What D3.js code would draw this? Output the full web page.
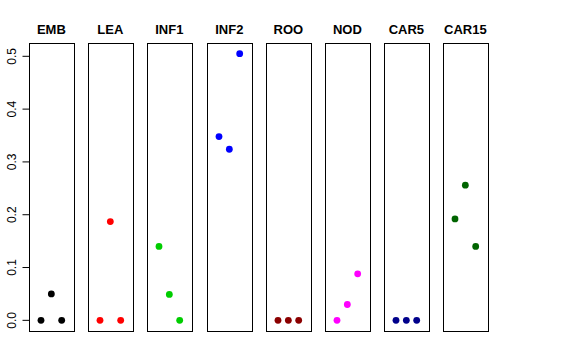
<!DOCTYPE html>
<html>
<head>
<meta charset="utf-8">
<script src="https://cdn.jsdelivr.net/npm/d3@7"></script>
<style>
  body { margin: 0; background: #fff; }
  svg { font-family: "Liberation Sans", Arial, sans-serif; }
</style>
</head>
<body>
<div id="chart"></div>
<script>
const width = 576, height = 360;

// panel names, one dot colour per panel, three values per panel
const categories = ["EMB", "LEA", "INF1", "INF2", "ROO", "NOD", "CAR5", "CAR15"];
const palette = ["#000000", "#FF0000", "#00CD00", "#0000FF", "#8B0000", "#FF00FF", "#00008B", "#006400"];
const values = [
    [0, 0.05, 0],
    [0, 0.187, 0],
    [0.14, 0.049, 0],
    [0.348, 0.324, 0.505],
    [0, 0, 0],
    [0, 0.03, 0.088],
    [0, 0, 0],
    [0.192, 0.256, 0.14]
];
const xPositions = [1, 2, 3];
const yTicks = [0, 0.1, 0.2, 0.3, 0.4, 0.5];

const plotTop = 43, plotBottom = 331;

const svg = d3.select("#chart")
    .append("svg")
    .attr("width", width)
    .attr("height", height);

const panel = d3.scaleBand()
    .domain(categories)
    .range([29, 488])
    .paddingInner(0.245)
    .paddingOuter(0);

// R style 4% padding round the data range
const yMax = d3.max(values.flat());
const pad = yMax * 0.04;
const y = d3.scaleLinear()
    .domain([-pad, yMax + pad])
    .range([plotBottom, plotTop]);

const panels = svg.selectAll("g.panel")
    .data(categories)
    .join("g")
    .attr("class", "panel")
    .attr("transform", d => `translate(${Math.round(panel(d))},0)`);

panels.each(function (name, i) {
    const g = d3.select(this);
    const w = panel.bandwidth();
    const x = d3.scaleLinear().domain([-0.16, 4.16]).range([0, w]);

    g.selectAll("circle")
        .data(values[i])
        .join("circle")
        .attr("cx", (d, j) => x(xPositions[j]))
        .attr("cy", d => y(d))
        .attr("r", 3.4)
        .attr("fill", palette[i]);

    g.append("rect")
        .attr("x", 0.5)
        .attr("y", plotTop + 0.5)
        .attr("width", Math.round(w))
        .attr("height", plotBottom - plotTop)
        .attr("fill", "none")
        .attr("stroke", "#000")
        .attr("stroke-width", 1);

    g.append("text")
        .attr("x", w / 2)
        .attr("y", 34)
        .attr("text-anchor", "middle")
        .attr("font-weight", "bold")
        .attr("font-size", 13)
        .text(name);
});

// y axis on the first panel only
const yAxis = svg.append("g")
    .attr("transform", `translate(${Math.round(panel(categories[0])) + 0.5},0)`);

yAxis.append("line")
    .attr("y1", y(0)).attr("y2", y(0.5))
    .attr("stroke", "#000");

yAxis.selectAll("line.tick")
    .data(yTicks)
    .join("line")
    .attr("class", "tick")
    .attr("x1", 0).attr("x2", -7)
    .attr("y1", d => y(d)).attr("y2", d => y(d))
    .attr("stroke", "#000");

yAxis.selectAll("text")
    .data(yTicks)
    .join("text")
    .attr("transform", d => `translate(-14,${y(d)}) rotate(-90)`)
    .attr("text-anchor", "middle")
    .attr("font-size", 12)
    .text(d3.format(".1f"));
</script>
</body>
</html>
